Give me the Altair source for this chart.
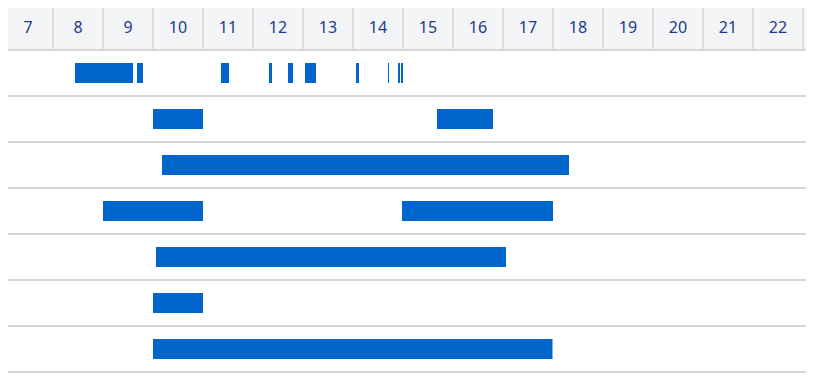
import altair as alt
import pandas as pd

# ---- data ----
hour_labels = list(range(7, 23))          # header labels
header_cols = list(range(7, 24))          # header cells (last one partly visible)
row_lines = list(range(1, 9))             # horizontal separators (row units)

bar_rows = [1, 1, 1, 1, 1, 1, 1, 1, 1, 1,
            2, 2,
            3,
            4, 4,
            5,
            6,
            7]
bar_starts = [8.44, 9.68, 11.36, 12.32, 12.70, 13.04, 14.06, 14.70, 14.90, 14.96,
              10.00, 15.68,
              10.18,
              9.00, 14.98,
              10.06,
              10.00,
              10.00]
bar_ends = [9.60, 9.80, 11.52, 12.38, 12.80, 13.26, 14.12, 14.72, 14.94, 15.00,
            11.00, 16.80,
            18.32,
            11.00, 18.00,
            17.06,
            11.00,
            17.99]

# ---- styling ----
BLUE = "#0066cc"
GRID = "#d6d6d6"
HEAD_BG = "#f3f4f6"
TEXT = "#1e3a8a"
ROW_PX = 46
W = 798

x_scale = alt.Scale(domain=[7.1, 7.1 + W / 50], nice=False, zero=False)
r_top = 4 / ROW_PX
y_scale = alt.Scale(domain=[r_top, r_top + 8], nice=False, zero=False, reverse=True)

cols_df = pd.DataFrame({"h": header_cols})
cols_df["h2"] = cols_df["h"] + 1
cols_df["r0"] = 0
cols_df["r1"] = 1

labels_df = pd.DataFrame({"h": hour_labels})
labels_df["hc"] = labels_df["h"] + 0.5
labels_df["lab"] = labels_df["h"].astype(str)
labels_df["r"] = 0.5

vlines_df = pd.DataFrame({"h": header_cols[1:]})
vlines_df["r0"] = 0
vlines_df["r1"] = 1

hlines_df = pd.DataFrame({"r": row_lines})
hlines_df["x0"] = 7
hlines_df["x1"] = 24

bars_df = pd.DataFrame({"row": bar_rows, "start": bar_starts, "end": bar_ends})
bars_df["rc"] = bars_df["row"] + 0.5

X = lambda f: alt.X(f, type="quantitative", scale=x_scale, axis=None)
Y = lambda f: alt.Y(f, type="quantitative", scale=y_scale, axis=None)

head_bg = alt.Chart(cols_df).mark_rect(fill=HEAD_BG, clip=True).encode(
    x=X("h"), x2="h2", y=Y("r0"), y2="r1"
)
vlines = alt.Chart(vlines_df).mark_rule(color=GRID, strokeWidth=1.5, clip=True).encode(
    x=X("h"), y=Y("r0"), y2="r1"
)
hlines = alt.Chart(hlines_df).mark_rule(color=GRID, strokeWidth=2, clip=True).encode(
    x=X("x0"), x2="x1", y=Y("r")
)
labels = alt.Chart(labels_df).mark_text(
    font="Noto Sans", fontSize=16, color=TEXT, align="center", baseline="middle", dy=1
).encode(x=X("hc"), y=Y("r"), text="lab:N")
bars = alt.Chart(bars_df).mark_rect(color=BLUE, yOffset=-10, y2Offset=10, clip=True).encode(
    x=X("start"), x2="end", y=Y("rc"), y2="rc"
)

chart = alt.layer(head_bg, vlines, hlines, labels, bars).properties(
    width=W, height=368, padding=0,
    autosize=alt.AutoSizeParams(type="none"),
).configure_view(stroke=None)

chart.save("out.html", embed_options={"renderer": "svg", "actions": False})
